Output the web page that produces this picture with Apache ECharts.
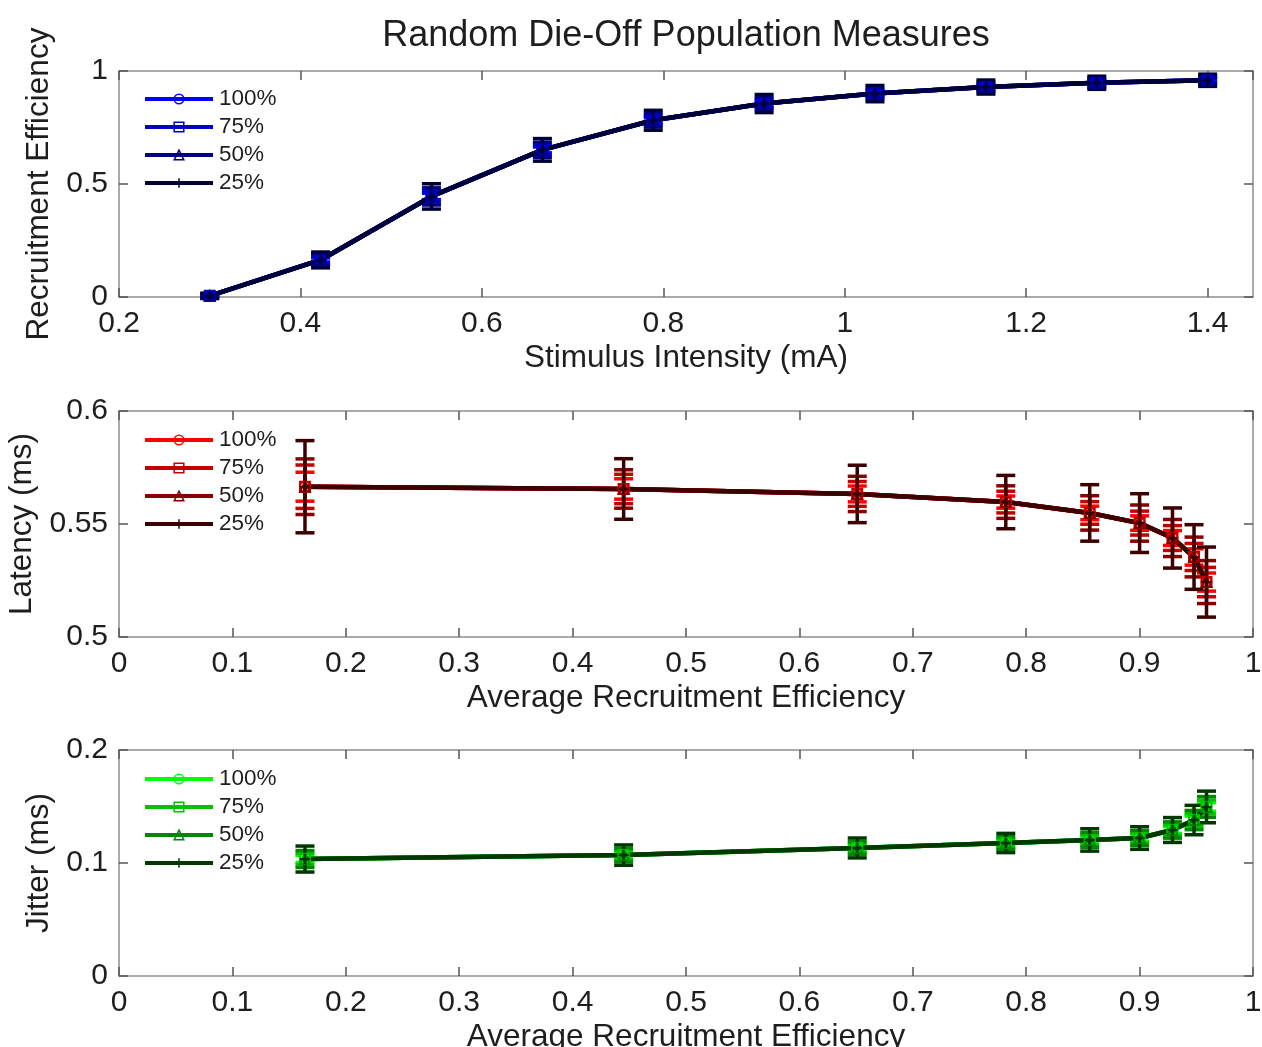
<!DOCTYPE html>
<html>
<head>
<meta charset="utf-8">
<title>Random Die-Off Population Measures</title>
<script src="https://cdn.jsdelivr.net/npm/echarts@6/dist/echarts.min.js"></script>
<style>
  html, body { margin: 0; padding: 0; background: #ffffff; }
  #chart { width: 1262px; height: 1047px; }
</style>
</head>
<body>
<div id="chart"></div>
<script>
// Surviving population fractions
const populations = ['100%', '75%', '50%', '25%'];

// Stimulus intensities (mA)
const stimulus = [0.3, 0.4222, 0.5444, 0.6667, 0.7889, 0.9111, 1.0333, 1.1556, 1.2778, 1.4];

// Mean recruitment efficiency at each stimulus
const efficiency = [0.005, 0.164, 0.445, 0.651, 0.782, 0.856, 0.900, 0.929, 0.948, 0.959];
const effErr100 = [0.003, 0.009, 0.014, 0.013, 0.011, 0.010, 0.009, 0.008, 0.0075, 0.007];
const effErr75  = [0.005, 0.016, 0.025, 0.022, 0.020, 0.018, 0.016, 0.014, 0.013, 0.012];
const effErr50  = [0.008, 0.024, 0.038, 0.034, 0.030, 0.027, 0.024, 0.021, 0.020, 0.018];
const effErr25  = [0.012, 0.035, 0.056, 0.050, 0.044, 0.040, 0.036, 0.031, 0.029, 0.027];

// Average recruitment efficiency for the latency / jitter panels
const avgEfficiency = [0.164, 0.445, 0.651, 0.782, 0.856, 0.900, 0.929, 0.948, 0.959];

// Latency (ms)
const latency = [0.5665, 0.5655, 0.5633, 0.5597, 0.5549, 0.5504, 0.5438, 0.5354, 0.5243];
const latErr100 = [0.0064, 0.0045, 0.0035, 0.0027, 0.0030, 0.0032, 0.0033, 0.0036, 0.0040];
const latErr75  = [0.0096, 0.0065, 0.0055, 0.0048, 0.0050, 0.0053, 0.0055, 0.0060, 0.0065];
const latErr50  = [0.0123, 0.0085, 0.0078, 0.0072, 0.0076, 0.0080, 0.0082, 0.0088, 0.0095];
const latErr25  = [0.0204, 0.0134, 0.0127, 0.0118, 0.0125, 0.0130, 0.0133, 0.0143, 0.0155];

// Jitter (ms)
const jitter = [0.1035, 0.1070, 0.1133, 0.1177, 0.1204, 0.1221, 0.1292, 0.1380, 0.1496];
const jitErr100 = [0.0030, 0.0025, 0.0024, 0.0023, 0.0027, 0.0027, 0.0030, 0.0035, 0.0038];
const jitErr75  = [0.0050, 0.0040, 0.0039, 0.0037, 0.0043, 0.0044, 0.0048, 0.0057, 0.0062];
const jitErr50  = [0.0075, 0.0060, 0.0058, 0.0056, 0.0065, 0.0066, 0.0072, 0.0085, 0.0092];
const jitErr25  = [0.0115, 0.0090, 0.0088, 0.0085, 0.0099, 0.0100, 0.0110, 0.0130, 0.0140];

// Colour ramps per panel (bright -> dark as the population shrinks)
const blues  = ['#0000ff', '#0000c4', '#000088', '#000038'];
const reds   = ['#ff0000', '#c40000', '#880000', '#3c0000'];
const greens = ['#00ff00', '#00c400', '#008800', '#003800'];

const FONT = '"Liberation Sans", Arial, sans-serif';
const TEXT = '#1e1e1e';
const PLUS = 'path://M5,0 L5,10 M0,5 L10,5';
const markers = ['circle', 'rect', 'triangle', PLUS];

const chart = echarts.init(document.getElementById('chart'), null, { renderer: 'canvas' });

// Fixed plot boxes; the lowest axis title is allowed to run off the bottom edge
const grids = [
  { left: 119, right: 9, top: 71, height: 226, outerBoundsMode: 'none', containLabel: false },
  { left: 119, right: 9, top: 411, height: 226, outerBoundsMode: 'none', containLabel: false },
  { left: 119, right: 9, top: 750, height: 226, outerBoundsMode: 'none', containLabel: false }
];

function boxAxis(kind, gi, min, max, interval, opts) {
  const main = opts.main;
  const a = {
    type: 'value', gridIndex: gi, min: min, max: max, interval: interval,
    position: kind === 'x' ? (main ? 'bottom' : 'top') : (main ? 'left' : 'right'),
    axisLine: { show: true, onZero: false, lineStyle: { color: '#8e8e8e', width: 1.5 } },
    axisTick: { show: true, inside: true, length: 9, lineStyle: { color: '#555555', width: 1.5 } },
    axisLabel: {
      show: main, margin: kind === 'x' ? 12 : 11, fontSize: 30, color: TEXT, fontFamily: FONT,
      showMaxLabel: opts.showMax !== false
    },
    splitLine: { show: false }
  };
  if (main && opts.name) {
    a.name = opts.name;
    a.nameLocation = 'middle';
    a.nameGap = opts.gap;
    a.nameTextStyle = { fontSize: 31.5, color: TEXT, fontFamily: FONT };
  }
  return a;
}

const xAxes = [
  boxAxis('x', 0, 0.2, 1.45, 0.2, { main: true, name: 'Stimulus Intensity (mA)', gap: 45, showMax: false }),
  boxAxis('x', 0, 0.2, 1.45, 0.2, { main: false }),
  boxAxis('x', 1, 0, 1, 0.1, { main: true, name: 'Average Recruitment Efficiency', gap: 45 }),
  boxAxis('x', 1, 0, 1, 0.1, { main: false }),
  boxAxis('x', 2, 0, 1, 0.1, { main: true, name: 'Average Recruitment Efficiency', gap: 45 }),
  boxAxis('x', 2, 0, 1, 0.1, { main: false })
];
const yAxes = [
  boxAxis('y', 0, 0, 1, 0.5, { main: true, name: 'Recruitment Efficiency', gap: 62 }),
  boxAxis('y', 0, 0, 1, 0.5, { main: false }),
  boxAxis('y', 1, 0.5, 0.6, 0.05, { main: true, name: 'Latency (ms)', gap: 81 }),
  boxAxis('y', 1, 0.5, 0.6, 0.05, { main: false }),
  boxAxis('y', 2, 0, 0.2, 0.1, { main: true, name: 'Jitter (ms)', gap: 62 }),
  boxAxis('y', 2, 0, 0.2, 0.1, { main: false })
];

// Vertical error bars with caps, drawn through the axis scales
function errorBarSeries(xs, ys, errs, color, axisIndex) {
  return {
    type: 'custom',
    xAxisIndex: axisIndex, yAxisIndex: axisIndex,
    silent: true, animation: false,
    data: ys.map((y, i) => [xs[i], y, errs[i]]),
    encode: { x: 0, y: 1 },
    renderItem: function (params, api) {
      const x = api.value(0), y = api.value(1), e = api.value(2);
      const hi = api.coord([x, y + e]);
      const lo = api.coord([x, y - e]);
      const w = 9.5;
      const style = { stroke: color, lineWidth: 3.5, fill: null };
      return {
        type: 'group',
        children: [
          { type: 'line', shape: { x1: hi[0], y1: hi[1], x2: lo[0], y2: lo[1] }, style: style },
          { type: 'line', shape: { x1: hi[0] - w, y1: hi[1], x2: hi[0] + w, y2: hi[1] }, style: style },
          { type: 'line', shape: { x1: lo[0] - w, y1: lo[1], x2: lo[0] + w, y2: lo[1] }, style: style }
        ]
      };
    }
  };
}

function lineSeries(name, xs, ys, color, marker, axisIndex) {
  return {
    type: 'line', name: name,
    xAxisIndex: axisIndex, yAxisIndex: axisIndex,
    data: ys.map((y, i) => [xs[i], y]),
    color: color,
    symbol: marker, symbolSize: 10, showSymbol: true,
    lineStyle: { color: color, width: 4.5 },
    itemStyle: { color: 'rgba(0,0,0,0)', borderColor: color, borderWidth: 2 },
    animation: false, silent: true
  };
}

const panels = [
  { prefix: 'Recruitment', xs: stimulus, ys: efficiency, errs: [effErr100, effErr75, effErr50, effErr25], colors: blues, axis: 0 },
  { prefix: 'Latency', xs: avgEfficiency, ys: latency, errs: [latErr100, latErr75, latErr50, latErr25], colors: reds, axis: 2 },
  { prefix: 'Jitter', xs: avgEfficiency, ys: jitter, errs: [jitErr100, jitErr75, jitErr50, jitErr25], colors: greens, axis: 4 }
];

const series = [];
const legends = [];
const legendTops = [87.5, 428.5, 767.5];
panels.forEach((p, pi) => {
  const names = [];
  populations.forEach((pop, k) => {
    const name = p.prefix + ' ' + pop;
    names.push(name);
    series.push(errorBarSeries(p.xs, p.ys, p.errs[k], p.colors[k], p.axis));
    series.push(lineSeries(name, p.xs, p.ys, p.colors[k], markers[k], p.axis));
  });
  legends.push({
    data: names, orient: 'vertical', left: 143, top: legendTops[pi],
    padding: 0, itemWidth: 68, itemHeight: 12, itemGap: 5,
    selectedMode: false,
    lineStyle: { width: 4 },
    itemStyle: { borderWidth: 1.5 },
    formatter: n => n.split(' ')[1],
    textStyle: { fontSize: 22.5, color: TEXT, fontFamily: FONT, padding: [0, 0, 0, 1] }
  });
});

chart.setOption({
  backgroundColor: '#ffffff',
  animation: false,
  title: {
    text: 'Random Die-Off Population Measures',
    left: 686, top: 18, textAlign: 'center', padding: 0,
    textStyle: { fontSize: 36, fontWeight: 'normal', color: TEXT, fontFamily: FONT }
  },
  legend: legends,
  grid: grids,
  xAxis: xAxes,
  yAxis: yAxes,
  series: series
});
</script>
</body>
</html>
